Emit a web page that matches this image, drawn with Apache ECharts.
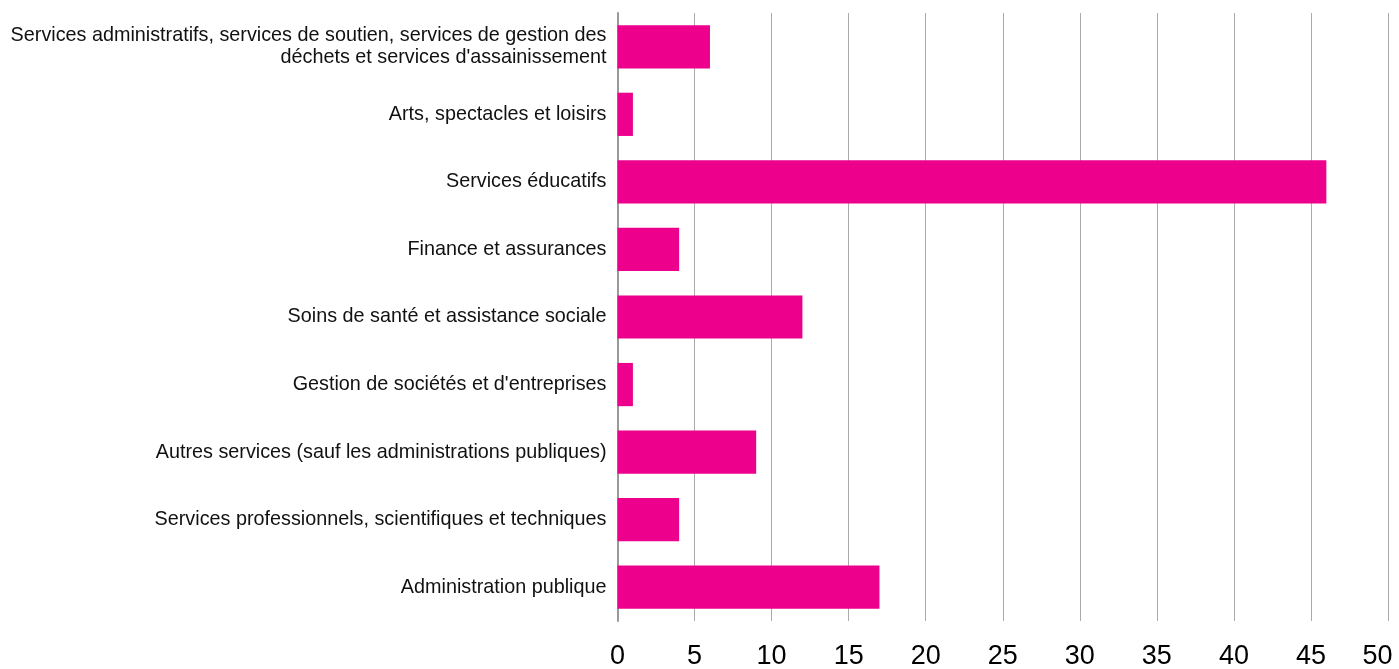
<!DOCTYPE html>
<html><head><meta charset="utf-8">
<script src="https://cdn.jsdelivr.net/npm/echarts@6/dist/echarts.min.js"></script>
<style>html,body{margin:0;padding:0;background:#fff;overflow:hidden}#c{width:1399px;height:669px}</style>
</head><body><div id="c"></div>
<script>
const categories = [
  "Services administratifs, services de soutien, services de gestion des\ndéchets et services d'assainissement",
  "Arts, spectacles et loisirs",
  "Services éducatifs",
  "Finance et assurances",
  "Soins de santé et assistance sociale",
  "Gestion de sociétés et d'entreprises",
  "Autres services (sauf les administrations publiques)",
  "Services professionnels, scientifiques et techniques",
  "Administration publique"
];
const values = [6, 1, 46, 4, 12, 1, 9, 4, 17];
const xMin = 0, xMax = 50, xStep = 5;

const tickFont = {color: '#000', fontSize: 27, fontFamily: 'Liberation Sans, Arial, sans-serif'};
const chart = echarts.init(document.getElementById('c'), null, {renderer: 'canvas'});
chart.setOption({
  animation: false,
  grid: {left: 617.5, right: 11, top: 13, bottom: 48, containLabel: false, outerBoundsMode: 'none'},
  xAxis: {
    type: 'value', min: xMin, max: xMax, interval: xStep,
    axisLine: {show: false}, axisTick: {show: false},
    splitLine: {show: true, lineStyle: {color: '#aaaaaa', width: 1}},
    axisLabel: Object.assign({}, tickFont, {
      margin: 22,
      formatter: function (v) { return v === xMax ? '{r|' + v + '}' : String(v); },
      rich: {r: Object.assign({}, tickFont, {padding: [0, 21, 0, 0]})}
    })
  },
  yAxis: {
    type: 'category', data: categories, inverse: true,
    axisLine: {show: true, lineStyle: {color: '#999999', width: 2}},
    axisTick: {show: false},
    axisLabel: {color: '#111', fontSize: 19.8, fontFamily: 'Liberation Sans, Arial, sans-serif', margin: 11, align: 'right', lineHeight: 22}
  },
  series: [{
    type: 'bar', data: values, barCategoryGap: '36%',
    itemStyle: {color: '#EC008C'}
  }]
});
</script></body></html>
